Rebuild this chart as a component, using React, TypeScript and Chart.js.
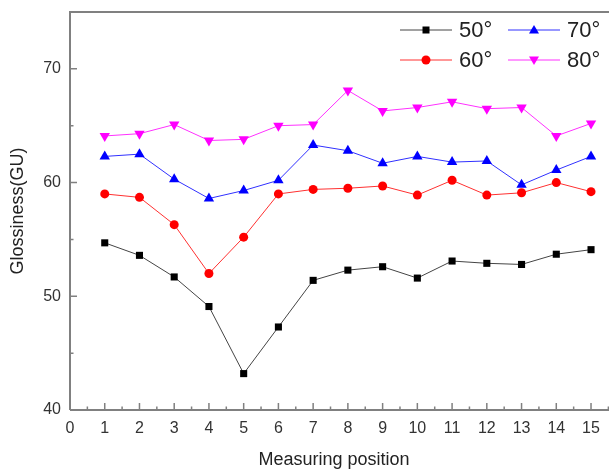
import React, { useEffect, useRef } from "react";
import { Chart, registerables } from "chart.js";

Chart.register(...registerables);

const positions = [1, 2, 3, 4, 5, 6, 7, 8, 9, 10, 11, 12, 13, 14, 15];
const seriesLabels = ["50°", "60°", "70°", "80°"];
const s50 = [54.7, 53.6, 51.7, 49.1, 43.2, 47.3, 51.4, 52.3, 52.6, 51.6, 53.1, 52.9, 52.8, 53.7, 54.1];
const s60 = [59.0, 58.7, 56.3, 52.0, 55.2, 59.0, 59.4, 59.5, 59.7, 58.9, 60.2, 58.9, 59.1, 60.0, 59.2];
const s70 = [62.3, 62.5, 60.3, 58.6, 59.3, 60.2, 63.3, 62.8, 61.7, 62.3, 61.8, 61.9, 59.8, 61.1, 62.3];
const s80 = [64.1, 64.3, 65.1, 63.7, 63.8, 65.0, 65.1, 68.1, 66.3, 66.6, 67.1, 66.5, 66.6, 64.1, 65.2];
const xTicks = [0, 1, 2, 3, 4, 5, 6, 7, 8, 9, 10, 11, 12, 13, 14, 15];
const yTicks = [40, 50, 60, 70];

const FONT = "'Liberation Sans', Arial, sans-serif";
const AXIS_COLOR = "#808080";

const axesPlugin = {
  id: "axesPlugin",
  afterDraw(chart: any) {
    const { ctx, chartArea } = chart;
    const xs = chart.scales.x;
    const ys = chart.scales.y;
    ctx.save();
    ctx.strokeStyle = AXIS_COLOR;
    ctx.lineWidth = 2;
    ctx.beginPath();
    ctx.moveTo(chartArea.left, chartArea.bottom);
    ctx.lineTo(chartArea.left, chartArea.top);
    ctx.lineTo(chart.width, chartArea.top);
    ctx.moveTo(chartArea.left, chartArea.bottom);
    ctx.lineTo(chart.width, chartArea.bottom);
    ctx.stroke();
    ctx.lineWidth = 1.5;
    ctx.beginPath();
    for (let v = 0; v <= 15.5; v += 0.5) {
      const px = xs.getPixelForValue(v);
      if (px > chart.width) continue;
      const len = Number.isInteger(v) ? 7 : 3.5;
      ctx.moveTo(px, chartArea.bottom);
      ctx.lineTo(px, chartArea.bottom - len);
    }
    for (let v = 40; v <= 75; v += 5) {
      const py = ys.getPixelForValue(v);
      const len = v % 10 === 0 ? 7 : 3.5;
      ctx.moveTo(chartArea.left, py);
      ctx.lineTo(chartArea.left + len, py);
    }
    ctx.stroke();
    ctx.restore();
  },
};

const legendPlugin = {
  id: "customLegend",
  afterDraw(chart: any) {
    const { ctx } = chart;
    const cols = [400, 508];
    const rows = [30, 60];
    ctx.save();
    chart.data.datasets.forEach((ds: any, i: number) => {
      const col = i < 2 ? 0 : 1;
      const row = i % 2;
      const x0 = cols[col];
      const y = rows[row];
      ctx.strokeStyle = ds.borderColor;
      ctx.lineWidth = 1;
      ctx.beginPath();
      ctx.moveTo(x0, y);
      ctx.lineTo(x0 + 52, y);
      ctx.stroke();
      ctx.fillStyle = ds.pointBackgroundColor;
      const cx = x0 + 26;
      const r = 5;
      ctx.beginPath();
      if (ds.pointStyle === "rect") {
        ctx.rect(cx - 3.5, y - 3.5, 7, 7);
      } else if (ds.pointStyle === "circle") {
        ctx.arc(cx, y, 4.5, 0, Math.PI * 2);
      } else if (ds.pointStyle === "triangle" && !ds.pointRotation) {
        ctx.moveTo(cx, y - r);
        ctx.lineTo(cx + r, y + r * 0.7);
        ctx.lineTo(cx - r, y + r * 0.7);
        ctx.closePath();
      } else {
        ctx.moveTo(cx, y + r);
        ctx.lineTo(cx + r, y - r * 0.7);
        ctx.lineTo(cx - r, y - r * 0.7);
        ctx.closePath();
      }
      ctx.fill();
      ctx.fillStyle = "#222";
      ctx.font = `22px ${FONT}`;
      ctx.textBaseline = "middle";
      ctx.textAlign = "left";
      ctx.fillText(ds.label, x0 + 59, y + 1);
    });
    ctx.restore();
  },
};

export default function App() {
  const ref = useRef<HTMLCanvasElement | null>(null);
  useEffect(() => {
    document.body.style.margin = "0";
    const mk = (label: string, data: number[], color: string, lineColor: string, style: string, rot = 0) => ({
      label,
      data: positions.map((p, i) => ({ x: p, y: data[i] })),
      borderColor: lineColor,
      backgroundColor: color,
      pointBackgroundColor: color,
      pointBorderColor: color,
      borderWidth: 1,
      pointStyle: style,
      pointRotation: rot,
      pointRadius: style === "rect" ? 5 : style === "circle" ? 4.5 : 6,
      pointBorderWidth: 0,
      tension: 0,
    });
    const chart = new Chart(ref.current as HTMLCanvasElement, {
      type: "line",
      data: {
        datasets: [
          mk(seriesLabels[0], s50, "#000000", "#444444", "rect"),
          mk(seriesLabels[1], s60, "#ff0000", "#ff3030", "circle"),
          mk(seriesLabels[2], s70, "#0000ff", "#3030ff", "triangle"),
          mk(seriesLabels[3], s80, "#ff00ff", "#ff30ff", "triangle", 180),
        ] as any,
      },
      options: {
        animation: false,
        responsive: false,
        maintainAspectRatio: false,
        layout: { padding: { top: 12, right: 0, left: 0, bottom: 0 } },
        plugins: { legend: { display: false }, tooltip: { enabled: false } },
        scales: {
          x: {
            type: "linear",
            min: 0,
            max: 15.2,
            border: { display: false },
            grid: { display: false, drawTicks: false },
            afterFit: (s: any) => {
              s.height = 62;
            },
            afterBuildTicks: (s: any) => { s.ticks = xTicks.map((v) => ({ value: v })); },
            ticks: {
              padding: 9,
              color: "#333",
              font: { family: FONT, size: 16 },
              maxRotation: 0,
              autoSkip: false,
            },
            title: {
              display: true,
              text: "Measuring position",
              color: "#222",
              font: { family: FONT, size: 18 },
              padding: { top: 0, bottom: 1 },
            },
          },
          y: {
            min: 40,
            max: 75,
            border: { display: false },
            grid: { display: false, drawTicks: false },
            afterFit: (s: any) => {
              s.width = 70;
              s.paddingTop = 0;
              s.paddingBottom = 0;
            },
            afterBuildTicks: (s: any) => { s.ticks = yTicks.map((v) => ({ value: v })); },
            ticks: {
              padding: 9,
              color: "#333",
              font: { family: FONT, size: 16 },
            },
            title: {
              display: true,
              text: "Glossiness(GU)",
              color: "#222",
              font: { family: FONT, size: 18 },
              padding: { top: 7, bottom: 0 },
            },
          },
        },
      } as any,
      plugins: [axesPlugin, legendPlugin],
    });
    return () => chart.destroy();
  }, []);
  return (
    <div style={{ position: "fixed", left: 0, top: 0, width: 609, height: 472, background: "#fff" }}>
      <canvas ref={ref} width={609} height={472} style={{ width: 609, height: 472, display: "block" }} />
    </div>
  );
}
